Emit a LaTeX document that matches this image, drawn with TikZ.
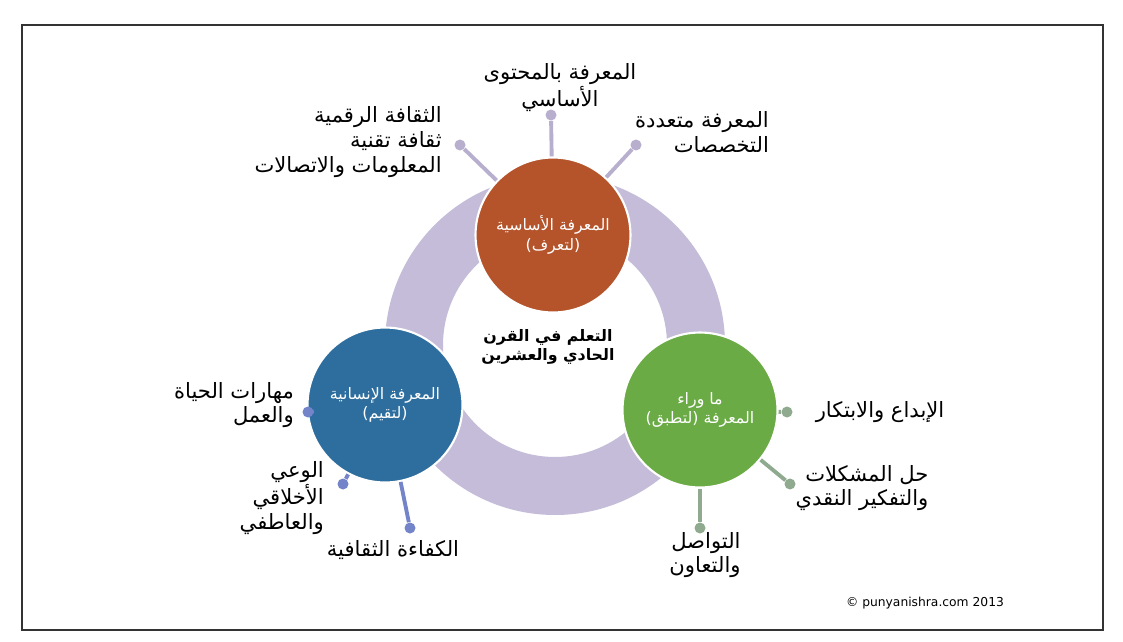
\documentclass[tikz,border=0pt]{standalone}
\usepackage{fontspec}
\newfontfamily\arabicfont[Script=Arabic]{DejaVu Sans}
\setsansfont{DejaVu Sans}
\TeXXeTstate=1
\newcommand{\ar}[1]{{\arabicfont\beginR #1\endR}}
\definecolor{ringcol}{HTML}{C4BCD8}
\definecolor{orangecol}{HTML}{B5532A}
\definecolor{bluecol}{HTML}{2E6E9E}
\definecolor{greencol}{HTML}{6AAB45}
\definecolor{topspoke}{HTML}{B8AFCF}
\definecolor{leftspoke}{HTML}{7484C8}
\definecolor{rightspoke}{HTML}{8FAA8F}
\begin{document}
\begin{tikzpicture}[x=0.02cm, y=-0.02cm,
        hub/.style={circle, draw=white, line width=1.2pt, minimum size=3.1cm, align=center, text=white, font=\small},
        dot/.style={circle, fill=#1, inner sep=0pt, minimum size=0.22cm},
        spoke/.style={line width=2.2pt, #1},
        lbl/.style={align=right, font=\large}
    ]
        \useasboundingbox[fill=white] (0,0) rectangle (1123,642);
        \draw[line width=1pt, black!80] (22,25) rectangle (1103,630);

        % Ring
        \fill[ringcol, even odd rule] (555,345) circle (170) (555,345) circle (112);
        \node[align=center, font=\small\bfseries] (center) at (548,347) {\ar{التعلم في القرن}\\\ar{الحادي والعشرين}};

        % Hubs
        \node[hub, fill=orangecol] (top) at (553,235) {\ar{المعرفة الأساسية}\\\ar{(لتعرف)}};
        \node[hub, fill=bluecol] (left) at (385,405) {\ar{المعرفة الإنسانية}\\\ar{(لتقيم)}};
        \node[hub, fill=greencol] (right) at (700,410) {\ar{ما وراء}\\\ar{المعرفة (لتطبق)}};

        % Dots
        \node[dot=topspoke] (t1) at (460,145) {};
        \node[dot=topspoke] (t2) at (551,115) {};
        \node[dot=topspoke] (t3) at (636,145) {};
        \node[dot=leftspoke] (l1) at (308,412) {};
        \node[dot=leftspoke] (l2) at (343,484) {};
        \node[dot=leftspoke] (l3) at (410,528) {};
        \node[dot=rightspoke] (r1) at (787,412) {};
        \node[dot=rightspoke] (r2) at (790,484) {};
        \node[dot=rightspoke] (r3) at (700,528) {};

        % Spokes
        \foreach \d in {t1,t2,t3} \draw[spoke=topspoke] (top) -- (\d);
        \foreach \d in {l1,l2,l3} \draw[spoke=leftspoke] (left) -- (\d);
        \foreach \d in {r1,r2,r3} \draw[spoke=rightspoke] (right) -- (\d);

        % Labels
        \node[lbl, anchor=east] (tl) at (448,142) {\ar{الثقافة الرقمية}\\\ar{ثقافة تقنية}\\\ar{المعلومات والاتصالات}};
        \node[lbl, align=center] (tm) at (560,88) {\ar{المعرفة بالمحتوى}\\\ar{الأساسي}};
        \node[lbl] (tr) at (702,132) {\ar{المعرفة متعددة}\\\ar{التخصصات}};
        \node[lbl, anchor=east] (ll1) at (300,405) {\ar{مهارات الحياة}\\\ar{والعمل}};
        \node[lbl, anchor=east] (ll2) at (330,498) {\ar{الوعي}\\\ar{الأخلاقي}\\\ar{والعاطفي}};
        \node[lbl] (ll3) at (393,550) {\ar{الكفاءة الثقافية}};
        \node[lbl] (rl1) at (880,412) {\ar{الإبداع والابتكار}};
        \node[lbl] (rl2) at (862,488) {\ar{حل المشكلات}\\\ar{والتفكير النقدي}};
        \node[lbl] (rl3) at (705,555) {\ar{التواصل}\\\ar{والتعاون}};
        \node[font=\sffamily\scriptsize] (copy) at (925,603) {© punyanishra.com 2013};
    \end{tikzpicture}
\end{document}
